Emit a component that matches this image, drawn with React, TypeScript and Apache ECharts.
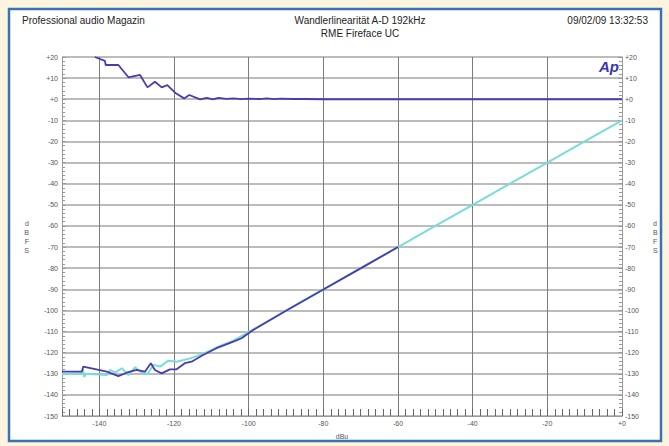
import React, { useEffect, useRef } from "react";
import * as echarts from "echarts";

// Top trace: deviation (dB) vs level (dBu)
const devX = [-141.2, -138.5, -138.3, -134.9, -132.2, -129.1, -127.1, -125.1, -123.3, -121.8, -119.5, -117.3, -115.9, -113.0, -111.2, -109.6, -108.1, -106, -104, -102, -100, -97, -95.2, -93, -91.6, -88, -85, -80, -70, -60, -50, -40, -30, -20, -10, 0];
const devY = [20, 18.2, 16.2, 16.2, 10.4, 11.5, 5.6, 8.3, 5.6, 6.7, 2.8, 0.4, 2.0, -0.1, 0.6, -0.1, 0.6, 0.2, 0.4, 0.1, 0.3, 0.1, 0.4, 0.1, 0.3, 0.1, 0.1, 0, 0, 0, 0, 0, 0, 0, 0, 0];

// Linearity, channel 1 (blue)
const linX = [-150, -144.7, -144.3, -138.0, -134.9, -132.7, -130.0, -127.8, -126.2, -125.1, -123.3, -121.1, -119.3, -117.1, -115.3, -112.2, -108.6, -104.1, -101.9, -98.8, -90, -80, -70, -60];
const linY = [-129, -129, -126.6, -129.0, -131.1, -129.5, -128.2, -129, -125.0, -128.2, -129.8, -127.9, -127.9, -125.0, -124.3, -121.1, -117.9, -114.8, -113.2, -109.3, -100.2, -90.1, -80.1, -70];

// Linearity, channel 2 (cyan)
const cyX = [-150, -144.6, -144.4, -144.1, -143.5, -138.0, -137.1, -135.8, -134.0, -132.2, -130.4, -129.1, -127.1, -125.5, -123.7, -121.5, -119.3, -115.7, -112.2, -108.6, -104.1, -100.5, -90, -80, -70, -60, -50, -40, -30, -20, -10, 0];
const cyY = [-130.2, -129.8, -127.6, -131.5, -130.0, -130.6, -128.2, -129.5, -127.4, -130.6, -126.9, -129.0, -130.1, -125.8, -126.6, -123.8, -124.3, -122.7, -120.6, -117.5, -114.3, -110.8, -100.1, -90, -80, -70, -60, -50, -40, -30, -20, -10];

const headerLeft = "Professional audio Magazin";
const headerTitle = "Wandlerlinearität A-D 192kHz";
const headerSub = "RME Fireface UC";
const headerDate = "09/02/09 13:32:53";

const FONT = "Liberation Sans, Arial, sans-serif";
const BLUE = "#4a3cae";
const CYAN = "#79dcd8";

const fmt = (v: number) => (v > 0 ? "+" + v : v === 0 ? "+0" : String(v));

const zip = (xs: number[], ys: number[]) => xs.map((x, i) => [x, ys[i]]);

export default function App() {
  const ref = useRef<HTMLDivElement>(null);
  useEffect(() => {
    if (!ref.current) return;
    const chart = echarts.init(ref.current, undefined, { renderer: "svg" });
    const labelStyle = { fontSize: 7, color: "#555", fontFamily: FONT };
    chart.setOption({
      animation: false,
      backgroundColor: "#fcf4df",
      graphic: [
        {
          type: "rect",
          z: -10,
          silent: true,
          shape: { x: 9, y: 9, width: 652, height: 432 },
          style: { fill: "#ffffff", stroke: "#3a72b2", lineWidth: 2.5 },
        },
        {
          type: "text",
          x: 22,
          y: 20,
          style: { text: headerLeft, fontSize: 10, fontFamily: FONT, fill: "#222", align: "left", verticalAlign: "middle", textAlign: "left", textVerticalAlign: "middle" },
        },
        {
          type: "text",
          x: 360,
          y: 20,
          style: { text: headerTitle, fontSize: 10, fontFamily: FONT, fill: "#222", align: "center", verticalAlign: "middle", textAlign: "center", textVerticalAlign: "middle" },
        },
        {
          type: "text",
          x: 360,
          y: 33,
          style: { text: headerSub, fontSize: 10, fontFamily: FONT, fill: "#222", align: "center", verticalAlign: "middle", textAlign: "center", textVerticalAlign: "middle" },
        },
        {
          type: "text",
          x: 648,
          y: 20,
          style: { text: headerDate, fontSize: 10, fontFamily: FONT, fill: "#222", align: "right", verticalAlign: "middle", textAlign: "right", textVerticalAlign: "middle" },
        },
        {
          type: "text",
          x: 619,
          y: 66,
          z: 10,
          style: { text: "Ap", fontSize: 15, fontWeight: "bold", fontStyle: "italic", fontFamily: FONT, fill: "#3b36b0", align: "right", verticalAlign: "middle", textAlign: "right", textVerticalAlign: "middle" },
        },
      ],
      grid: { left: 62, right: 47, top: 57, bottom: 30 },
      xAxis: [
        {
          type: "value",
          position: "bottom",
          min: -150,
          max: 0,
          splitNumber: 8,
          name: "dBu",
          nameLocation: "middle",
          nameGap: 17,
          nameTextStyle: { fontSize: 7, color: "#555", fontFamily: FONT },
          axisLine: { show: true, onZero: false, lineStyle: { color: "#999", width: 1 } },
          axisTick: { show: false },
          axisLabel: { ...labelStyle, margin: 4, formatter: (v: number) => (v === -150 ? "" : fmt(v)) },
          splitLine: { show: true, lineStyle: { color: "#7c7c7c", width: 1 } },
        },
        {
          type: "value",
          position: "bottom",
          min: -150,
          max: 0,
          interval: 2,
          axisLine: { show: false, onZero: false },
          axisLabel: { show: false },
          splitLine: { show: false },
          axisTick: { show: true, inside: true, length: 7, lineStyle: { color: "#666", width: 1 } },
        },
      ],
      yAxis: [
        {
          type: "value",
          position: "left",
          min: -150,
          max: 20,
          interval: 10,
          name: "d\nB\nF\nS",
          nameLocation: "middle",
          nameRotate: 0,
          nameGap: 33,
          nameTextStyle: { fontSize: 7, color: "#555", fontFamily: FONT, lineHeight: 9 },
          axisLine: { show: true, onZero: false, lineStyle: { color: "#999", width: 1 } },
          axisTick: { show: true, inside: true, length: 4, lineStyle: { color: "#999" } },
          minorTick: { show: true, splitNumber: 5, length: 3, lineStyle: { color: "#999" } },
          axisLabel: { ...labelStyle, margin: 4, formatter: fmt },
          splitLine: { show: true, lineStyle: { color: "#a6a6a6", width: 1.6 } },
        },
        {
          type: "value",
          position: "right",
          min: -150,
          max: 20,
          interval: 10,
          name: "d\nB\nF\nS",
          nameLocation: "middle",
          nameRotate: 0,
          nameGap: 31,
          nameTextStyle: { fontSize: 7, color: "#555", fontFamily: FONT, lineHeight: 9 },
          axisLine: { show: true, onZero: false, lineStyle: { color: "#999", width: 1 } },
          axisTick: { show: true, inside: true, length: 4, lineStyle: { color: "#999" } },
          minorTick: { show: true, splitNumber: 5, length: 3, lineStyle: { color: "#999" } },
          axisLabel: { ...labelStyle, margin: 3, formatter: fmt },
          splitLine: { show: false },
        },
      ],
      series: [
        {
          type: "line",
          name: "Ch2",
          data: zip(cyX, cyY),
          showSymbol: false,
          lineStyle: { color: CYAN, width: 2 },
          z: 3,
        },
        {
          type: "line",
          name: "Ch1",
          data: zip(linX, linY),
          showSymbol: false,
          lineStyle: { color: BLUE, width: 1.8 },
          z: 4,
        },
        {
          type: "line",
          name: "Deviation",
          data: zip(devX, devY),
          showSymbol: false,
          lineStyle: { color: BLUE, width: 1.8 },
          z: 4,
        },
      ],
    });
    return () => chart.dispose();
  }, []);
  return (
    <div
      ref={ref}
      style={{ position: "fixed", left: 0, top: 0, width: 669, height: 446 }}
    />
  );
}
